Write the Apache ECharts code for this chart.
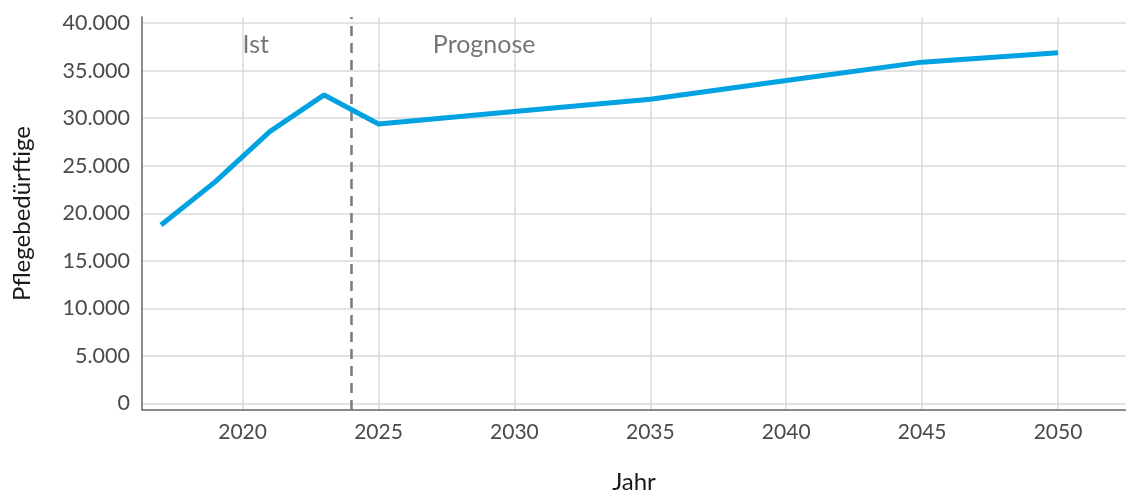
<!DOCTYPE html>
<html>
<head>
<meta charset="utf-8">
<script src="https://cdn.jsdelivr.net/npm/echarts@6/dist/echarts.min.js"></script>
<style>
html,body{margin:0;padding:0;background:#fff;}
#c{width:1126px;height:493px;}
</style>
</head>
<body>
<div id="c"></div>
<script>
const years = [2017, 2019, 2021, 2023, 2025, 2030, 2035, 2040, 2045, 2050];
const values = [18770, 23330, 28590, 32450, 29400, 30700, 32000, 33960, 35900, 36900];
const xTicks = [2020, 2025, 2030, 2035, 2040, 2045, 2050];
const yTicks = [0, 5000, 10000, 15000, 20000, 25000, 30000, 35000, 40000];
const splitYear = 2024;
const annotations = [
  { text: 'Ist', year: 2020, value: 37700 },
  { text: 'Prognose', year: 2027, value: 37700 }
];

const font = 'Lato, "Noto Sans", sans-serif';
const fmt = v => String(v).replace(/\B(?=(\d{3})+(?!\d))/g, '.');

const chart = echarts.init(document.getElementById('c'), null, { renderer: 'canvas' });
chart.setOption({
  animation: false,
  backgroundColor: '#ffffff',
  grid: { left: 142, right: 0, top: 17, bottom: 83, containLabel: false, outerBoundsMode: 'none' },
  xAxis: {
    type: 'value',
    min: 2016.3,
    max: 2052.5,
    name: 'Jahr',
    nameLocation: 'middle',
    nameGap: 60,
    nameTextStyle: { fontFamily: font, fontSize: 24, color: '#1a1a1a' },
    axisLine: { show: true, onZero: false, lineStyle: { color: '#666', width: 1.5 } },
    axisTick: { show: false, customValues: xTicks },
    axisLabel: { customValues: xTicks, fontFamily: font, fontSize: 21, color: '#4a4a4a', margin: 12, formatter: v => String(v) },
    splitLine: { show: true, lineStyle: { color: '#dadada', width: 1.5 } }
  },
  yAxis: {
    type: 'value',
    min: -700,
    max: 40650,
    name: 'Pflegebedürftige',
    nameLocation: 'middle',
    nameRotate: 90,
    nameGap: 108,
    nameTextStyle: { fontFamily: font, fontSize: 24, color: '#1a1a1a' },
    axisLine: { show: true, lineStyle: { color: '#666', width: 1.5 } },
    axisTick: { show: false, customValues: yTicks },
    axisLabel: { customValues: yTicks, fontFamily: font, fontSize: 21.5, color: '#4a4a4a', margin: 12, formatter: v => fmt(v) },
    splitLine: { show: true, lineStyle: { color: '#dadada', width: 1.5 } }
  },
  series: [{
    type: 'line',
    data: years.map((y, i) => [y, values[i]]),
    symbol: 'none',
    lineStyle: { color: '#00a2e1', width: 5 },
    z: 5,
    markLine: {
      silent: true,
      symbol: 'none',
      label: { show: false },
      lineStyle: { color: '#7a7a7a', type: [10, 7], width: 2.5 },
      data: [{ xAxis: splitYear }]
    },
    markPoint: {
      silent: true,
      symbol: 'circle',
      symbolSize: 0,
      data: annotations.map(a => ({
        coord: [a.year, a.value],
        label: {
          show: true, formatter: a.text, position: 'right', distance: 0,
          fontFamily: font, fontSize: 25, color: '#777'
        }
      }))
    }
  }]
});
</script>
</body>
</html>
